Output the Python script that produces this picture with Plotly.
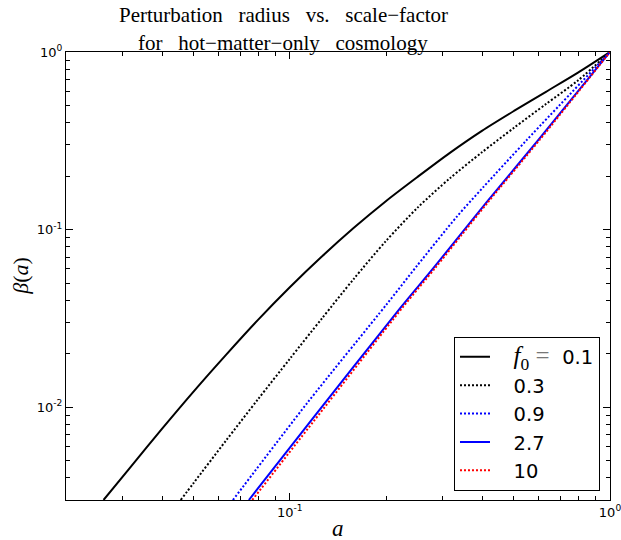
import plotly.graph_objects as go

# ---- data (scale factor a, perturbation radius beta) ----
a_f01 = [0.02620, 0.03162, 0.03981, 0.05012, 0.06310, 0.07943, 0.1000, 0.1259, 0.1585,
         0.1995, 0.2512, 0.3162, 0.3981, 0.5012, 0.6310, 0.7943, 1.0]
b_f01 = [0.0030, 0.004539, 0.007516, 0.01227, 0.01963, 0.03090, 0.04732, 0.07047, 0.1023,
         0.1445, 0.1986, 0.2704, 0.3597, 0.4656, 0.5970, 0.7656, 1.0]

a_f03 = [0.04564, 0.05012, 0.06310, 0.07943, 0.1000, 0.1259, 0.1585, 0.1995, 0.2512,
         0.3162, 0.3981, 0.5012, 0.6310, 0.7943, 1.0]
b_f03 = [0.0030, 0.003750, 0.006457, 0.01104, 0.01871, 0.03155, 0.05284, 0.08610, 0.1334,
         0.1945, 0.2723, 0.3741, 0.5093, 0.6918, 1.0]

a_f09 = [0.06643, 0.1133, 0.2012, 0.2495, 0.3326, 0.4027, 0.5498, 1.0]
b_f09 = [0.0030, 0.01054, 0.03819, 0.06247, 0.1184, 0.1739, 0.3197, 1.0]

a_f27 = [0.07450, 0.1160, 0.2215, 0.2812, 0.3406, 0.4126, 0.5975, 1.0]
b_f27 = [0.0030, 0.008309, 0.03625, 0.06088, 0.09337, 0.1432, 0.3197, 1.0]

a_f10 = [0.07634, 0.1186, 0.2246, 0.2847, 0.3443, 0.4165, 0.6027, 1.0]
b_f10 = [0.0030, 0.008309, 0.03625, 0.06088, 0.09337, 0.1432, 0.3197, 1.0]

NB = '\u00a0'
labels = [NB * 3 + '<span style="font-family:Liberation Serif;font-size:25px"><i>f</i><sub>0</sub>'
          + NB + '<span style="color:#777">=</span>' + NB * 2 + '</span>0.1',
          NB * 3 + '0.3', NB * 3 + '0.9', NB * 3 + '2.7', NB * 3 + '10']
colors = ['black', 'black', 'blue', 'blue', 'red']
dashes = ['solid', '2px,2px', '2px,2px', 'solid', '2px,2px']

x_tickvals = [0.1, 1.0]
x_ticktext = ['10<sup>-1</sup>', '10<sup>0</sup>']
y_tickvals = [0.01, 0.1, 1.0]
y_ticktext = ['10<sup>-2</sup>', '10<sup>-1</sup>', '10<sup>0</sup>']

series = [(a_f01, b_f01), (a_f03, b_f03), (a_f09, b_f09), (a_f27, b_f27), (a_f10, b_f10)]

fig = go.Figure()
for (xs, ys), lab, col, dsh in zip(series, labels, colors, dashes):
    fig.add_trace(go.Scatter(x=xs, y=ys, mode='lines', name=lab,
                             line=dict(color=col, width=2, dash=dsh, shape='spline', smoothing=0.8)))

minor_x = [m * 10 ** e for e in (-2, -1) for m in range(2, 10)]
minor_y = [m * 10 ** e for e in (-3, -2, -1) for m in range(2, 10)]

axis_common = dict(type='log', showgrid=False, zeroline=False, showline=True,
                   linecolor='black', linewidth=1.3, mirror='allticks',
                   ticks='inside', ticklen=7, tickwidth=1, tickcolor='black',
                   ticklabeloverflow='allow', automargin=False,
                   tickfont=dict(family='DejaVu Sans', size=13, color='black'))

fig.update_xaxes(**axis_common, range=[-1.69897, 0], tickmode='array',
                 tickvals=x_tickvals, ticktext=x_ticktext,
                 minor=dict(tickmode='array', tickvals=minor_x, ticks='inside',
                            ticklen=3.5, tickcolor='black', tickwidth=1))
fig.update_yaxes(**axis_common, range=[-2.5229, 0], tickmode='array',
                 tickvals=y_tickvals, ticktext=y_ticktext,
                 minor=dict(tickmode='array', tickvals=minor_y, ticks='inside',
                            ticklen=3.5, tickcolor='black', tickwidth=1))

title_font = dict(family='Liberation Serif', size=21, color='black')
fig.update_layout(
    width=621, height=540,
    margin=dict(l=66, r=11, t=52, b=40, autoexpand=False),
    paper_bgcolor='white', plot_bgcolor='white',
    showlegend=True,
    legend=dict(x=0.9816, xanchor='right', y=0.0208, yanchor='bottom',
                bgcolor='white', bordercolor='black', borderwidth=1,
                font=dict(family='DejaVu Sans', size=19.5, color='black'),
                itemwidth=30),
    annotations=[
        dict(text='Perturbation' + NB * 3 + 'radius' + NB * 3 + 'vs.' + NB * 3 + 'scale\u2212factor',
             xref='paper', yref='paper', x=(283 - 66) / 544, y=(500 - 15) / 448,
             xanchor='center', yanchor='middle', showarrow=False, font=title_font),
        dict(text='for' + NB * 3 + 'hot\u2212matter\u2212only' + NB * 3 + 'cosmology',
             xref='paper', yref='paper', x=(283 - 66) / 544, y=(500 - 43) / 448,
             xanchor='center', yanchor='middle', showarrow=False, font=title_font),
        dict(text='<i>β</i>(<i>a</i>)', xref='paper', yref='paper', x=-0.085, y=0.5,
             xanchor='center', yanchor='middle', textangle=-90, showarrow=False,
             font=dict(family='Liberation Serif', size=22, color='black')),
        dict(text='<i>a</i>', xref='paper', yref='paper', x=0.5, y=-0.0625,
             xanchor='center', yanchor='middle', showarrow=False,
             font=dict(family='Liberation Serif', size=23, color='black')),
    ],
)

fig.write_html('out.html')
